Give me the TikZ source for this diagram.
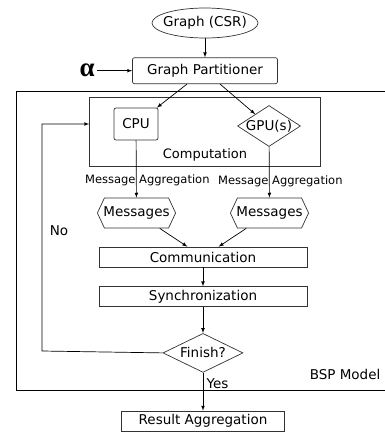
\documentclass[tikz,border=0pt]{standalone}
\usepackage{fontspec}
\setmainfont{DejaVu Sans}
\newfontfamily\greekserif{Liberation Serif}
\usepackage{tikz}
\usetikzlibrary{positioning, shapes.geometric, shapes.symbols}
\usepackage{xcolor}

\begin{document}
\begin{tikzpicture}[x=1pt, y=1pt, >=latex, line width=0.7pt,
    every node/.style={font=\fontsize{13.5}{15}\selectfont},
    box/.style={draw=black!80, inner sep=0pt, minimum width=208pt, minimum height=20pt},
    rbox/.style={box, rounded corners=2pt},
    choice/.style={draw=black!80, diamond, inner xsep=-12pt, inner ysep=-6pt},
    msg/.style={draw=black!80, signal, signal to=west and east, signal pointer angle=130,
        inner xsep=-1pt, inner ysep=0pt, minimum height=30pt},
    small/.style={font=\fontsize{11.5}{13}\selectfont}]
    \useasboundingbox (0,0) rectangle (384,-432);

    \node[draw=black!80, ellipse, inner xsep=-5pt, inner ysep=0pt, minimum width=106pt, minimum height=30pt] (csr) at (205,-23) {Graph (CSR)};
    \node[rbox, below=19pt of csr, minimum width=145pt, minimum height=26pt] (part) {Graph Partitioner};
    \node[left=35pt of part, inner sep=2pt, font=\fontsize{27}{27}\greekserif\bfseries] (alpha) {α};

    % BSP frame runs off the right edge
    \draw (16,-91) rectangle (400,-390);
    \node[anchor=east] (bsp) at (384,-374) {BSP Model};

    \node[draw=black!80, minimum width=231pt, minimum height=69pt] (comp) at (205,-131.5) {};
    \node[above=1pt of comp.south, font=\fontsize{13}{14}\selectfont] (comp-label) {Computation};
    \node[rbox, minimum width=44pt, minimum height=32pt] (cpu) at (136,-124) {CPU};
    \node[choice, minimum width=63pt, minimum height=41pt] (gpu) at (269,-126) {GPU(s)};

    \node[msg] (msg-cpu) at (136.5,-213) {Messages};
    \node[msg] (msg-gpu) at (269.5,-213) {Messages};

    \node[box] (comm) at (203,-257) {Communication};
    \node[box, below=19pt of comm] (sync) {Synchronization};
    \node[choice, below=26pt of sync, minimum width=80pt, minimum height=39pt] (finish) {Finish?};
    \node[box, minimum width=163pt] (result) at (203,-421) {Result Aggregation};

    \coordinate (loop) at (42,-351);

    \draw[->] (csr) -- (part);
    \draw[->] (alpha) -- (part);
    \draw[->] ([xshift=-18pt]part.south) -- (cpu);
    \draw[->] ([xshift=15pt]part.south) -- (gpu);
    \draw[->] (cpu) -- node[small, xshift=11pt, pos=0.7] (agg-cpu) {Message Aggregation} (msg-cpu);
    \draw[->] (gpu) -- node[small, xshift=11pt, pos=0.67] (agg-gpu) {Message Aggregation} (msg-gpu);
    \draw[->] (msg-cpu) -- (comm);
    \draw[->] (msg-gpu) -- (comm);
    \draw[->] (comm) -- (sync);
    \draw[->] (sync) -- (finish);
    \draw[->] (finish) -- node[right, pos=0.3] (yes) {Yes} (result);
    \draw[->] (finish.west) -- (loop) |- ([yshift=7.5pt]comp.west);
    \node (no) at (59,-231) {No};
\end{tikzpicture}
\end{document}
